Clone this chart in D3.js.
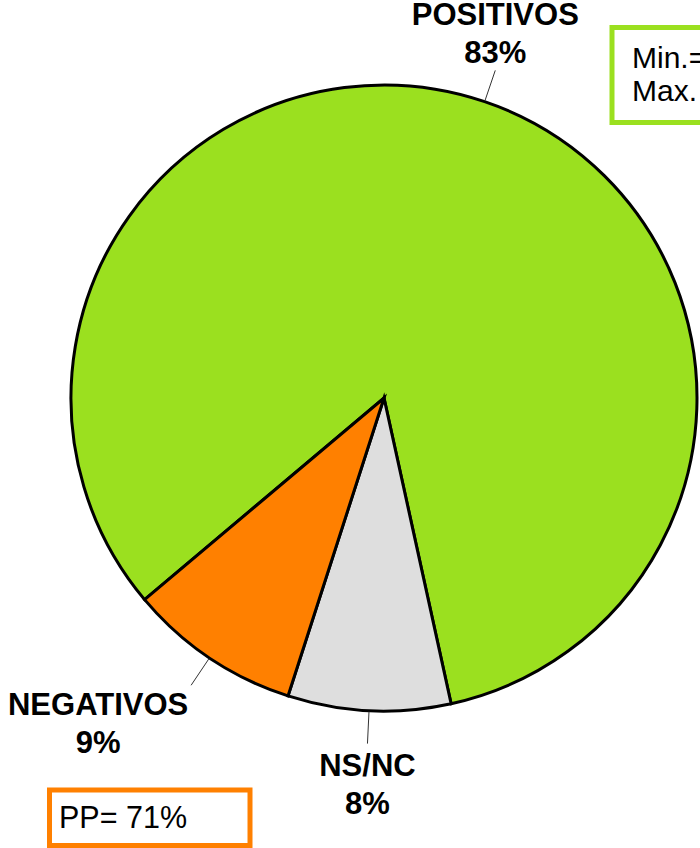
<!DOCTYPE html>
<html>
<head>
<meta charset="utf-8">
<script src="https://cdn.jsdelivr.net/npm/d3@7/dist/d3.min.js"></script>
<style>
  html, body { margin: 0; padding: 0; background: #fff; }
  svg { display: block; }
  text { font-family: "Liberation Sans", Arial, sans-serif; }
</style>
</head>
<body>
<svg id="chart" width="700" height="848"></svg>
<script>
// ---- data ----
const categories = ["POSITIVOS", "NS/NC", "NEGATIVOS"];
const values = [82.7, 8.4, 8.9];
const valueLabels = ["83%", "8%", "9%"];
const colors = ["#9be01f", "#dedede", "#ff8000"];
const ppText = "PP= 71%";
const rangeLines = ["Min.=", "Max."];

// ---- layout ----
const W = 700, H = 848;
const cx = 384, cy = 398, R = 313;
const startDeg = 229.9;
const leaderR0 = 314, leaderR1 = 346;
// label offsets relative to leader end: [dx, dy of first baseline]
const labelOffsets = [[0, -45], [0, 32], [-93, 30]];
const lineGap = 38;

const svg = d3.select("#chart");

const pie = d3.pie().sort(null).value(d => d)
  .startAngle(startDeg * Math.PI / 180)
  .endAngle(startDeg * Math.PI / 180 + 2 * Math.PI);
const arcs = pie(values);
const arc = d3.arc().innerRadius(0).outerRadius(R);

const g = svg.append("g").attr("transform", `translate(${cx},${cy})`);

g.selectAll("path.slice").data(arcs).join("path")
  .attr("class", "slice")
  .attr("d", arc)
  .attr("fill", (d, i) => colors[i])
  .attr("stroke", "#000")
  .attr("stroke-width", 3)
  .attr("stroke-linejoin", "miter");

function polar(a, r) { return [r * Math.sin(a), -r * Math.cos(a)]; }

arcs.forEach((d, i) => {
  const mid = (d.startAngle + d.endAngle) / 2;
  const p0 = polar(mid, leaderR0), p1 = polar(mid, leaderR1);
  g.append("line")
    .attr("x1", p0[0]).attr("y1", p0[1])
    .attr("x2", p1[0]).attr("y2", p1[1])
    .attr("stroke", "#333").attr("stroke-width", 1);
  const [dx, dy] = labelOffsets[i];
  const t = g.append("text")
    .attr("text-anchor", "middle")
    .attr("font-weight", "bold")
    .attr("font-size", 31)
    .attr("fill", "#000");
  t.append("tspan").attr("x", p1[0] + dx).attr("y", p1[1] + dy).text(categories[i]);
  t.append("tspan").attr("x", p1[0] + dx).attr("y", p1[1] + dy + lineGap).text(valueLabels[i]);
});

// range box (top right, clipped)
svg.append("rect")
  .attr("x", 612).attr("y", 27.5).attr("width", 120).attr("height", 95)
  .attr("fill", "#fff").attr("stroke", "#9be01f").attr("stroke-width", 5);
const rt = svg.append("text").attr("font-size", 30).attr("fill", "#000");
rangeLines.forEach((s, i) => {
  rt.append("tspan").attr("x", 632).attr("y", 68 + i * 33).text(s);
});

// PP box
svg.append("rect")
  .attr("x", 49.5).attr("y", 790).attr("width", 200.5).attr("height", 55.5)
  .attr("fill", "#fff").attr("stroke", "#ff8000").attr("stroke-width", 5);
svg.append("text")
  .attr("x", 59).attr("y", 828)
  .attr("font-size", 30.5).attr("fill", "#000")
  .text(ppText);
</script>
</body>
</html>
